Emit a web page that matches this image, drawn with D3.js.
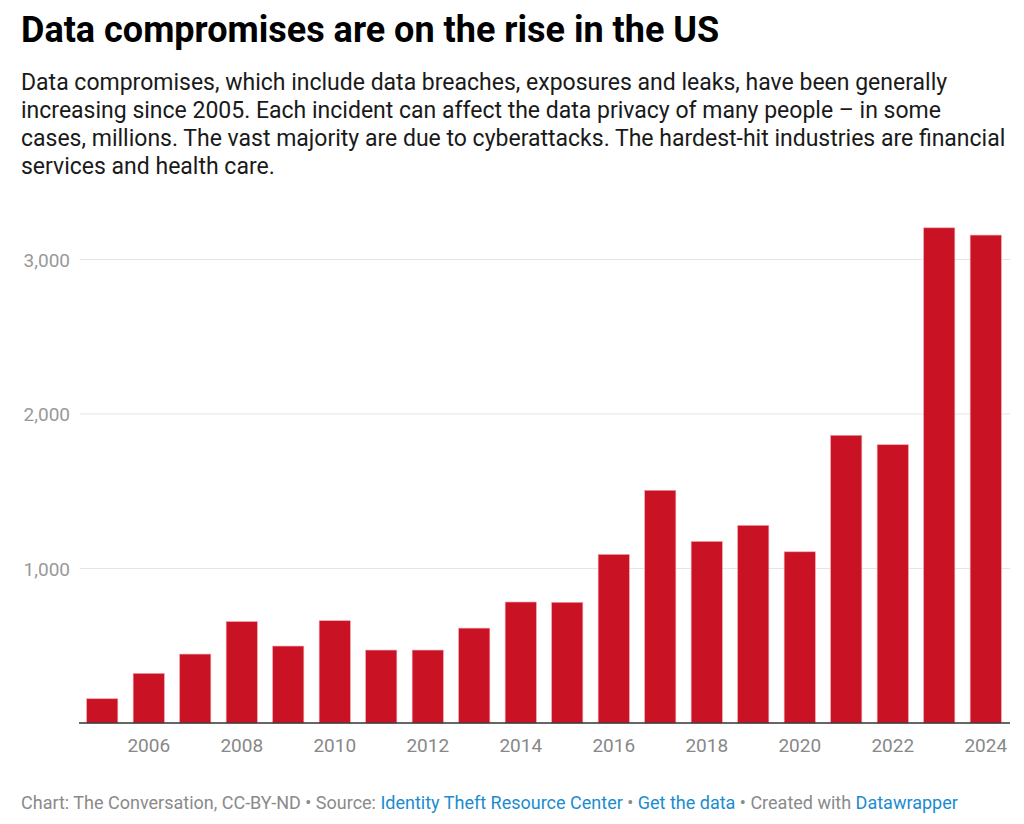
<!DOCTYPE html>
<html>
<head>
<meta charset="utf-8">
<script src="https://cdn.jsdelivr.net/npm/d3@7"></script>
<style>
  body { margin: 0; background: #fff; font-family: Roboto, "Noto Sans", sans-serif; }
</style>
</head>
<body>
<div id="chart-area"></div>
<script>
// data
var years = [2005, 2006, 2007, 2008, 2009, 2010, 2011, 2012, 2013, 2014,
             2015, 2016, 2017, 2018, 2019, 2020, 2021, 2022, 2023, 2024];
var compromises = [157, 321, 446, 656, 498, 662, 472, 472, 614, 783,
                   781, 1091, 1506, 1175, 1279, 1108, 1862, 1801, 3205, 3158];
var yTicks = [1000, 2000, 3000];
var xTickYears = [2006, 2008, 2010, 2012, 2014, 2016, 2018, 2020, 2022, 2024];

var title = "Data compromises are on the rise in the US";
var subtitle = [
    "Data compromises, which include data breaches, exposures and leaks, have been generally",
    "increasing since 2005. Each incident can affect the data privacy of many people \u2013 in some",
    "cases, millions. The vast majority are due to cyberattacks. The hardest-hit industries are financial",
    "services and health care."
];

var W = 1024, H = 824;

var svg = d3.select("#chart-area").append("svg")
    .attr("width", W)
    .attr("height", H);

svg.append("text")
    .attr("x", 21)
    .attr("y", 42)
    .attr("font-size", 36)
    .attr("font-weight", 700)
    .attr("fill", "#000")
    .text(title);

svg.append("g").selectAll("text").data(subtitle).enter().append("text")
    .attr("x", 21)
    .attr("y", (d, i) => 90 + i * 28)
    .attr("font-size", 23)
    .attr("fill", "#1a1a1a")
    .text(d => d);

var x = d3.scaleBand()
    .domain(years)
    .range([79, 1009])
    .paddingInner(0.33)
    .paddingOuter(0.165);

var y = d3.scaleLinear()
    .domain([0, 3000])
    .range([723, 259.5]);

// gridlines
svg.append("g").selectAll("line").data(yTicks).enter().append("line")
    .attr("x1", 80)
    .attr("x2", 1010)
    .attr("y1", d => y(d))
    .attr("y2", d => y(d))
    .attr("stroke", "#e3e5e8")
    .attr("stroke-width", 1);

svg.append("g").selectAll("text").data(yTicks).enter().append("text")
    .attr("x", 70)
    .attr("y", d => y(d) + 7)
    .attr("text-anchor", "end")
    .attr("font-size", 19)
    .attr("fill", "#999")
    .text(d => d3.format(",")(d));

// bars
svg.append("g").selectAll("rect").data(years).enter().append("rect")
    .attr("x", d => x(d))
    .attr("width", x.bandwidth())
    .attr("y", (d, i) => y(compromises[i]))
    .attr("height", (d, i) => y(0) - y(compromises[i]))
    .attr("fill", "#c91224")
    .attr("stroke", "#f0a0a8")
    .attr("stroke-width", 0.6);

// baseline
svg.append("line")
    .attr("x1", 79)
    .attr("x2", 1010)
    .attr("y1", y(0))
    .attr("y2", y(0))
    .attr("stroke", "#333")
    .attr("stroke-width", 1.5);

svg.append("g").selectAll("text").data(xTickYears).enter().append("text")
    .attr("x", d => x(d) + x.bandwidth() / 2)
    .attr("y", 752)
    .attr("text-anchor", "middle")
    .attr("font-size", 19)
    .attr("fill", "#888")
    .text(d => d);

// footer
var foot = svg.append("text")
    .attr("x", 21)
    .attr("y", 809)
    .attr("font-size", 18);
var grey = "#8a8a8a", blue = "#1b8ccf";
[["Chart: The Conversation, CC-BY-ND \u2022 Source: ", grey],
 ["Identity Theft Resource Center", blue],
 [" \u2022 ", grey],
 ["Get the data", blue],
 [" \u2022 Created with ", grey],
 ["Datawrapper", blue]].forEach(p => {
    foot.append("tspan").attr("fill", p[1]).text(p[0]);
});
</script>
</body>
</html>
